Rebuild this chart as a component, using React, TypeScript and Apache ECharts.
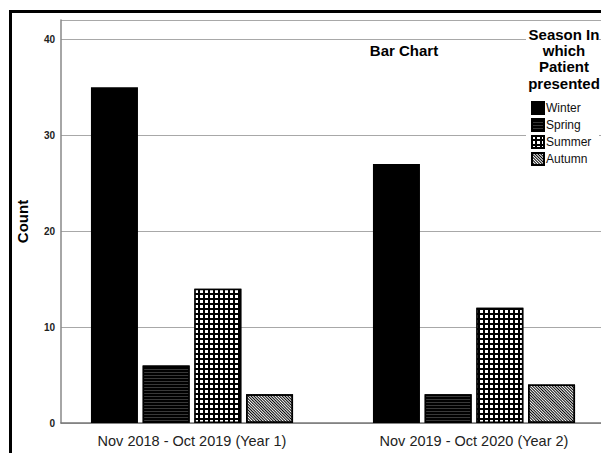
import React, { useEffect, useRef } from "react";
import * as echarts from "echarts";

const categories = ["Nov 2018 - Oct 2019 (Year 1)", "Nov 2019 - Oct 2020 (Year 2)"];
const seasons = ["Winter", "Spring", "Summer", "Autumn"];
const winter = [35, 27];
const spring = [6, 3];
const summer = [14, 12];
const autumn = [3, 4];
const yTicks = [0, 10, 20, 30, 40];
const yMax = 42;

const FONT = "'Liberation Sans', Arial, sans-serif";

export default function App() {
  const ref = useRef<HTMLDivElement>(null);
  useEffect(() => {
    if (!ref.current) return;
    const chart = echarts.init(ref.current, null, { renderer: "svg" });
    const border = { borderColor: "#000", borderWidth: 1.5 };
    const values = [winter, spring, summer, autumn];
    const styles: any[] = [
      { color: "#000", ...border },
      {
        color: "#000",
        ...border,
        decal: { symbol: "rect", symbolSize: 1, color: "#383838", dashArrayX: [1, 0], dashArrayY: [1, 2], rotation: 0 },
      },
      {
        color: "#000",
        ...border,
        decal: { symbol: "rect", symbolSize: 1, color: "#fff", dashArrayX: [3, 2], dashArrayY: [3, 2], rotation: 0 },
      },
      {
        color: "#fff",
        ...border,
        decal: { symbol: "rect", symbolSize: 1, color: "#000", dashArrayX: [1, 0], dashArrayY: [1, 1], rotation: Math.PI / 4 },
      },
    ];
    chart.setOption({
      animation: false,
      textStyle: { fontFamily: FONT },
      grid: [
        { left: 61, top: 20, width: 540, bottom: 30 },
        { left: 51, top: 20, width: 564, bottom: 30 },
      ],
      xAxis: [
        {
          gridIndex: 0,
          type: "value",
          min: 0,
          max: 1,
          axisLine: { show: true, lineStyle: { color: "#777", width: 1.5 } },
          axisTick: { show: false },
          axisLabel: { show: false },
          splitLine: { show: false },
        },
        {
          gridIndex: 1,
          type: "category",
          data: categories,
          axisLine: { show: false },
          axisTick: { show: false },
          axisLabel: { fontSize: 14.5, color: "#222", margin: 10, fontFamily: FONT },
        },
      ],
      yAxis: [
        {
          gridIndex: 0,
          type: "value",
          min: 0,
          max: yMax,
          interval: 10,
          name: "Count",
          nameLocation: "middle",
          nameRotate: 90,
          nameGap: 31,
          nameTextStyle: { fontSize: 15, fontWeight: "bold", color: "#000", fontFamily: FONT },
          axisLine: { show: true, lineStyle: { color: "#888", width: 1.5 } },
          axisTick: { show: false },
          axisLabel: {
            fontSize: 10,
            fontWeight: "bold",
            color: "#222",
            margin: 6,
            fontFamily: FONT,
            formatter: (v: number) => (yTicks.includes(v) ? String(v) : ""),
          },
          splitLine: { show: true, lineStyle: { color: "#a8a8a8", width: 1 } },
        },
        {
          gridIndex: 1,
          type: "value",
          min: 0,
          max: yMax,
          show: false,
          splitLine: { show: false },
        },
      ],
      legend: {
        orient: "vertical",
        left: 531,
        top: 101,
        itemWidth: 12,
        itemHeight: 12,
        itemGap: 3,
        padding: 0,
        icon: "rect",
        data: seasons,
        textStyle: { fontSize: 12, color: "#111", padding: [0, 0, 0, -3], fontFamily: FONT },
      },
      graphic: [
        {
          type: "rect",
          z: 1,
          shape: { x: 10.5, y: 11.5, width: 800, height: 800 },
          style: { fill: "none", stroke: "#000", lineWidth: 3 },
        },
        {
          type: "rect",
          z: 1,
          shape: { x: 526, y: 24, width: 73, height: 145 },
          style: { fill: "#fff" },
        },
        {
          type: "text",
          z: 2,
          x: 564,
          y: 26,
          style: {
            text: "Season In\nwhich\nPatient\npresented",
            fontSize: 15,
            fontWeight: "bold",
            fontFamily: FONT,
            lineHeight: 16.3,
            align: "center",
            verticalAlign: "top",
            fill: "#000",
          },
        },
        {
          type: "text",
          z: 2,
          x: 404,
          y: 50,
          style: {
            text: "Bar Chart",
            fontSize: 15,
            fontWeight: "bold",
            fontFamily: FONT,
            align: "center",
            verticalAlign: "middle",
            fill: "#000",
          },
        },
      ],
      series: seasons.map((name, i) => ({
        name,
        type: "bar",
        xAxisIndex: 1,
        yAxisIndex: 1,
        data: values[i],
        barWidth: 47,
        barGap: "10%",
        itemStyle: styles[i],
        emphasis: { disabled: true },
      })),
    });
    return () => chart.dispose();
  }, []);
  return (
    <div
      style={{ position: "absolute", left: 0, top: 0, width: 601, height: 453, overflow: "hidden", background: "#fff" }}
    >
      <div ref={ref} style={{ position: "absolute", left: 0, top: 0, width: 630, height: 453 }} />
    </div>
  );
}
